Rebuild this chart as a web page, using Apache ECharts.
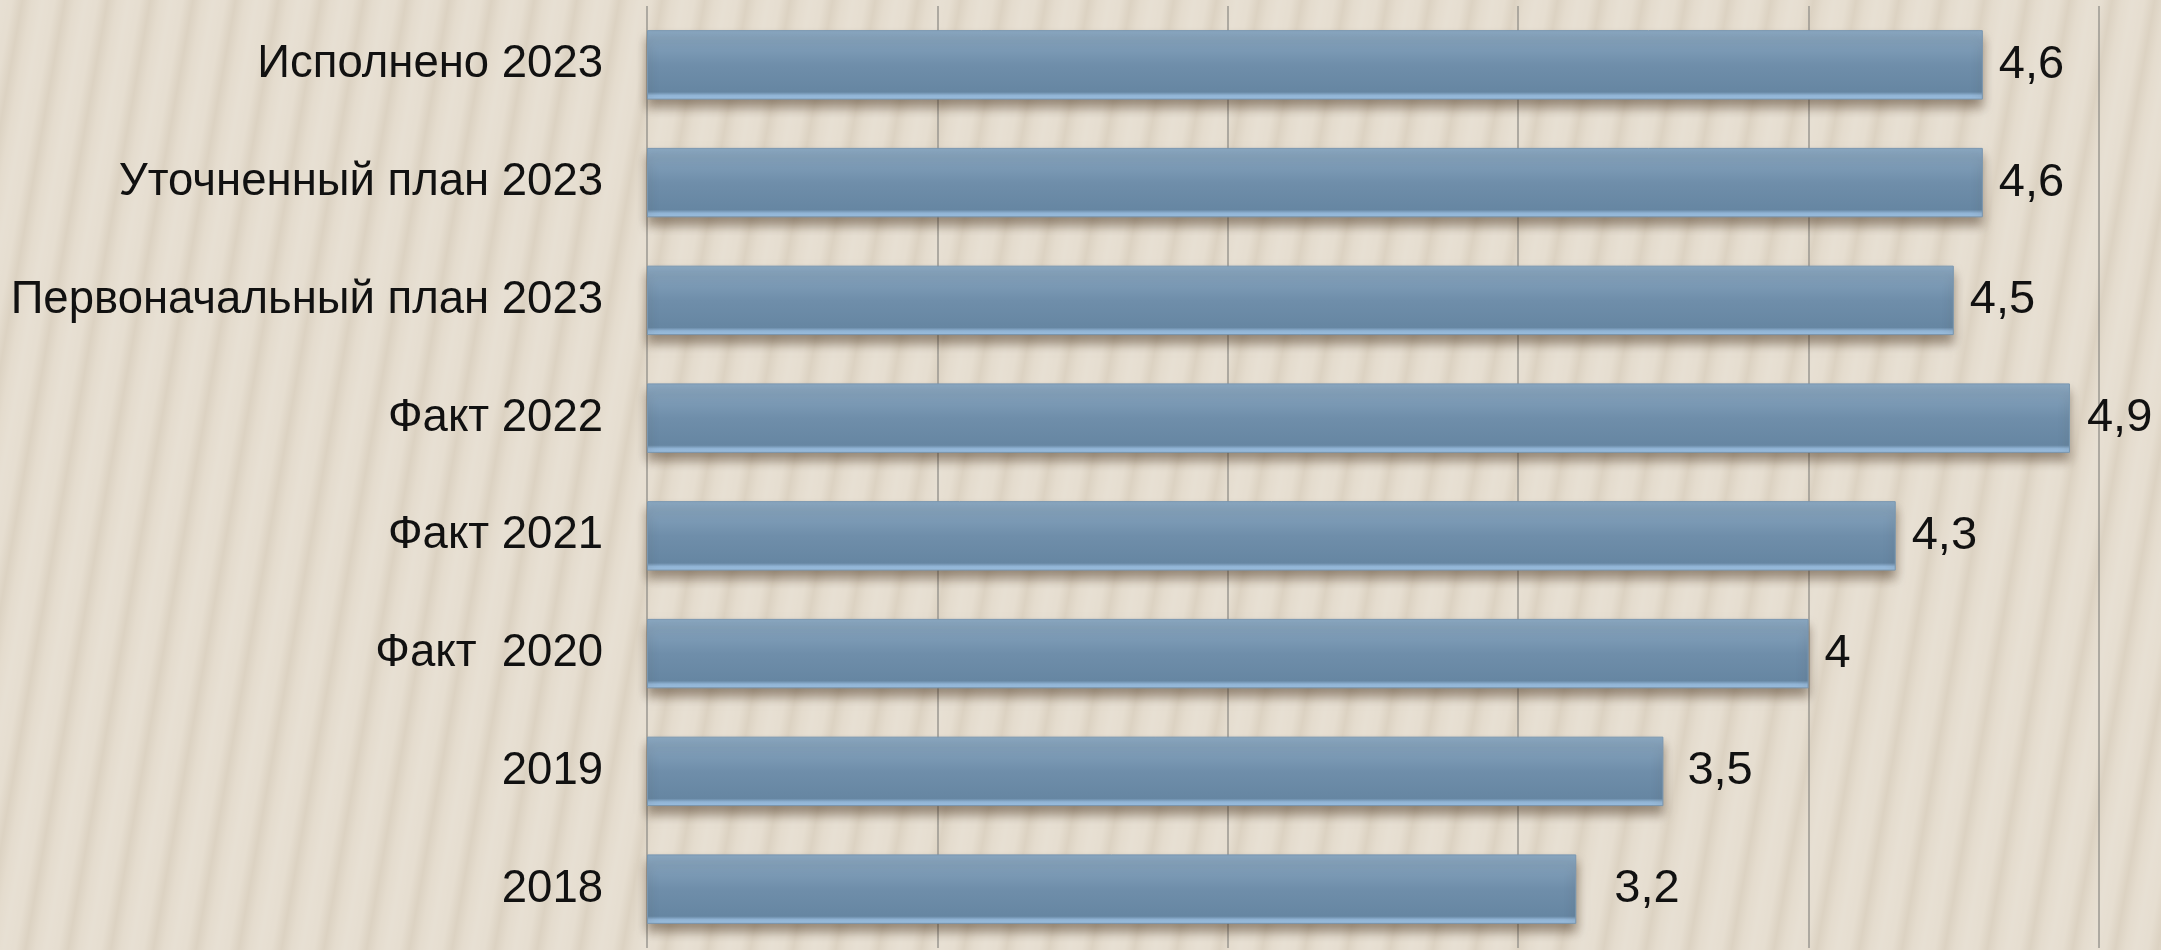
<!DOCTYPE html>
<html>
<head>
<meta charset="utf-8">
<script src="https://cdn.jsdelivr.net/npm/echarts@6/dist/echarts.min.js"></script>
<style>
	html, body { margin: 0; padding: 0; }
	body {
		width: 2161px; height: 950px; overflow: hidden;
		background-color: #e3dacb;
		background-image: repeating-linear-gradient(100deg, rgba(255,255,255,0.16) 0px, rgba(255,255,255,0.10) 12px, rgba(130,110,80,0.07) 22px, rgba(255,255,255,0.06) 32px, rgba(255,255,255,0.16) 42px);
	}
	#main { width: 2161px; height: 950px; }
</style>
</head>
<body>
<div id="main"></div>
<script>
var categories = ['Исполнено 2023', 'Уточненный план 2023', 'Первоначальный план 2023', 'Факт 2022', 'Факт 2021', 'Факт  2020', '2019', '2018'];
var values = [4.6, 4.6, 4.5, 4.9, 4.3, 4, 3.5, 3.2];
var labelGap = [16, 16, 16, 17, 16, 16, 24, 38];

var chart = echarts.init(document.getElementById('main'));

var barColor = new echarts.graphic.LinearGradient(0, 0, 0, 1, [
	{ offset: 0, color: '#8aa8c2' },
	{ offset: 0.07, color: '#87a5bf' },
	{ offset: 0.5, color: '#6f8eaa' },
	{ offset: 0.89, color: '#6686a2' },
	{ offset: 0.94, color: '#92b5d6' },
	{ offset: 1, color: '#9dc0e0' }
]);

var data = values.map(function(v, i) {
	return { value: v, label: { distance: labelGap[i] } };
});

var option = {
	backgroundColor: 'transparent',
	grid: { left: 647, right: 62, top: 6, bottom: 2 },
	xAxis: {
		type: 'value',
		min: 0,
		max: 5,
		interval: 1,
		axisLabel: { show: false },
		axisLine: { show: false },
		axisTick: { show: false },
		splitLine: { show: true, lineStyle: { color: '#9a9790', width: 1.5 } }
	},
	yAxis: {
		type: 'category',
		inverse: true,
		data: categories,
		axisLine: { show: false },
		axisTick: { show: false },
		axisLabel: {
			margin: 44,
			color: '#111',
			fontSize: 45.5,
			fontFamily: 'Liberation Sans, Arial, sans-serif'
		}
	},
	series: [{
		type: 'bar',
		data: data,
		barCategoryGap: '41%',
		itemStyle: {
			color: barColor,
			borderColor: '#7896b0',
			borderWidth: 1,
			shadowColor: 'rgba(70,50,30,0.5)',
			shadowBlur: 10,
			shadowOffsetY: 8
		},
		label: {
			show: true,
			position: 'right',
			color: '#111',
			fontSize: 47,
			fontFamily: 'Liberation Sans, Arial, sans-serif',
			formatter: function(p) {
				return String(p.value).replace('.', ',');
			}
		}
	}]
};

chart.setOption(option);
</script>
</body>
</html>
